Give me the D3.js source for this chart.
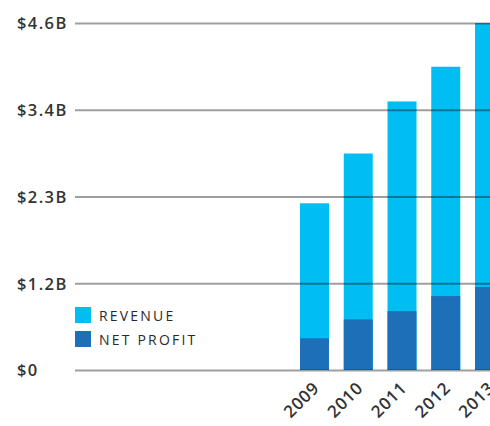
<!DOCTYPE html>
<html>
<head>
<meta charset="utf-8">
<script src="https://cdn.jsdelivr.net/npm/d3@7"></script>
<style>
    html, body { margin: 0; padding: 0; background: #fff; }
    svg { display: block; }
    svg text { font-family: "Open Sans", sans-serif; fill: #333; }
    .y.axis text { font-size: 16.5px; font-weight: 600; letter-spacing: 1.4px; }
    .x-label { font-size: 17px; font-weight: 600; letter-spacing: 0.8px; }
    .legend text { font-size: 14px; letter-spacing: 2.2px; fill: #2a2a2a; }
</style>
</head>
<body>
<svg id="chart"></svg>
<script>
(function() {
    'use strict';

    var years = ['2009', '2010', '2011', '2012', '2013'];
    var revenue = [2.21, 2.87, 3.56, 4.02, 4.6];
    var netProfit = [0.42, 0.67, 0.78, 0.98, 1.10];
    var tickValues = [0, 1.15, 2.3, 3.45, 4.6];
    var tickLabels = ['$0', '$1.2B', '$2.3B', '$3.4B', '$4.6B'];
    var seriesNames = ['REVENUE', 'NET PROFIT'];

    var width = 490, height = 426,
        colors = ['#00bdf2', '#1d6fb8'];

    var svg = d3.select('#chart')
        .attr('width', width)
        .attr('height', height);

    var x = d3.scaleBand()
        .domain(years)
        .range([300, 504])
        .paddingInner(0.337)
        .paddingOuter(0);

    var y = d3.scaleLinear()
        .domain([0, 4.6])
        .range([370, 23]);

    // Bars: revenue behind, net profit in front
    var bars = svg.append('g').attr('class', 'bars');
    bars.selectAll('rect.rev')
        .data(years)
        .enter().append('rect')
        .attr('class', 'rev')
        .attr('x', function(d) { return x(d); })
        .attr('width', x.bandwidth())
        .attr('y', function(d, i) { return y(revenue[i]); })
        .attr('height', function(d, i) { return y(0) - y(revenue[i]); })
        .attr('fill', colors[0]);
    bars.selectAll('rect.np')
        .data(years)
        .enter().append('rect')
        .attr('class', 'np')
        .attr('x', function(d) { return x(d); })
        .attr('width', x.bandwidth())
        .attr('y', function(d, i) { return y(netProfit[i]); })
        .attr('height', function(d, i) { return y(0) - y(netProfit[i]); })
        .attr('fill', colors[1]);

    // Gridlines + labels drawn over bars
    var yAxis = d3.axisRight(y)
        .tickValues(tickValues)
        .tickFormat(function(d, i) { return tickLabels[i]; })
        .tickSize(width - 75);
    var yg = svg.append('g')
        .attr('class', 'y axis')
        .attr('transform', 'translate(75,0)')
        .call(yAxis);
    yg.attr('font-family', null).attr('font-size', null);
    yg.select('.domain').remove();
    yg.selectAll('line')
        .attr('stroke', '#000')
        .attr('stroke-opacity', 0.38)
        .attr('stroke-width', 2);
    yg.selectAll('text')
        .attr('x', -58)
        .attr('dy', '0.36em')
        .attr('text-anchor', 'start');

    // Rotated year labels
    svg.append('g').selectAll('text')
        .data(years)
        .enter().append('text')
        .attr('class', 'x-label')
        .attr('text-anchor', 'end')
        .attr('transform', function(d) {
            return 'translate(' + (x(d) + x.bandwidth() / 2 + 6) + ',389) rotate(-45)';
        })
        .text(function(d) { return d; });

    // Legend
    var legend = svg.append('g').attr('class', 'legend');
    var items = legend.selectAll('g')
        .data(seriesNames)
        .enter().append('g')
        .attr('transform', function(d, i) { return 'translate(75,' + (307 + i * 24) + ')'; });
    items.append('rect')
        .attr('width', 16)
        .attr('height', 16)
        .attr('fill', function(d, i) { return colors[i]; });
    items.append('text')
        .attr('x', 24)
        .attr('y', 13.5)
        .text(function(d) { return d; });
})();
</script>
</body>
</html>
